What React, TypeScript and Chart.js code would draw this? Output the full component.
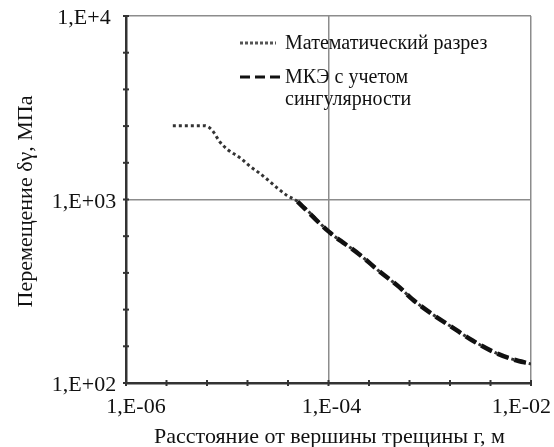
import React, { useEffect, useRef } from "react";
import { Chart, registerables } from "chart.js";

Chart.register(...registerables);

const xMath = [2.9e-6, 6.0e-6, 7.03e-6, 8.43e-6, 1.01e-5, 1.33e-5, 1.67e-5, 2.09e-5, 2.62e-5, 3.15e-5, 3.86e-5, 4.95e-5, 1e-4, 2.02e-4, 3.18e-4, 5.01e-4, 6.73e-4, 1.06e-3, 1.67e-3, 2.62e-3, 4.13e-3, 6.5e-3, 1e-2];
const yMath = [2525, 2525, 2399, 2065, 1870, 1691, 1520, 1390, 1255, 1150, 1055, 975, 670, 502, 406, 333, 286, 237, 201, 171, 149, 135, 127];

const xFem = [4.95e-5, 1e-4, 2.02e-4, 3.18e-4, 5.01e-4, 6.73e-4, 1.06e-3, 1.67e-3, 2.62e-3, 4.13e-3, 6.5e-3, 1e-2];
const yFem = [975, 670, 502, 406, 333, 286, 237, 201, 171, 149, 135, 127];

const xMajor = [1e-6, 1e-4, 1e-2];
const xLabels = ["1,E-06", "1,E-04", "1,E-02"];
const yMajor = [100, 1000, 10000];
const yLabels = ["1,E+02", "1,E+03", "1,E+4"];

const seriesNames = ["Математический разрез", "МКЭ с учетом", "сингулярности"];
const xTitle = "Расстояние от вершины трещины г, м";
const yTitle = "Перемещение δγ, МПа";

const FONT = '"Liberation Serif", "DejaVu Serif", serif';

const decorPlugin = {
  id: "decor",
  afterDraw(chart: any) {
    const ctx = chart.ctx;
    const xs = chart.scales.x;
    const ys = chart.scales.y;
    const area = chart.chartArea;
    ctx.save();
    ctx.strokeStyle = "#333";
    ctx.lineWidth = 2;
    for (let k = 0; k <= 10; k++) {
      const px = xs.getPixelForValue(Math.pow(10, -6 + 0.4 * k));
      ctx.beginPath();
      ctx.moveTo(px, area.bottom - 3);
      ctx.lineTo(px, area.bottom + 3);
      ctx.stroke();
      const py = ys.getPixelForValue(Math.pow(10, 2 + 0.2 * k));
      ctx.beginPath();
      ctx.moveTo(area.left - 3, py);
      ctx.lineTo(area.left + 3, py);
      ctx.stroke();
    }
    ctx.fillStyle = "#111";
    ctx.font = "22px " + FONT;
    ctx.textBaseline = "alphabetic";
    ctx.textAlign = "center";
    yMajor.forEach((v, i) => {
      const py = ys.getPixelForValue(v);
      ctx.fillText(yLabels[i], area.left - 42, py + 8);
    });
    xMajor.forEach((v, i) => {
      const px = xs.getPixelForValue(v);
      const w = ctx.measureText(xLabels[i]).width;
      let cx = px;
      if (i === 0) cx = px + 10;
      else if (i === xMajor.length - 1) cx = Math.min(px, chart.width - 3 - w / 2);
      else cx = px + 3;
      ctx.fillText(xLabels[i], cx, area.bottom + 30);
    });
    ctx.fillText(xTitle, (area.left + area.right) / 2 + 1, area.bottom + 60);
    ctx.save();
    ctx.translate(32, (area.top + area.bottom) / 2 + 2);
    ctx.rotate(-Math.PI / 2);
    ctx.fillText(yTitle, 0, 0);
    ctx.restore();
    ctx.font = "20px " + FONT;
    ctx.textAlign = "left";
    ctx.fillText(seriesNames[0], 285, 49);
    ctx.fillText(seriesNames[1], 285, 83);
    ctx.fillText(seriesNames[2], 285, 105);
    ctx.lineWidth = 3;
    ctx.strokeStyle = "#555";
    ctx.setLineDash([3, 2]);
    ctx.beginPath();
    ctx.moveTo(240, 43);
    ctx.lineTo(276, 43);
    ctx.stroke();
    ctx.strokeStyle = "#111";
    ctx.setLineDash([10, 5]);
    ctx.beginPath();
    ctx.moveTo(240, 77);
    ctx.lineTo(283, 77);
    ctx.stroke();
    ctx.restore();
  },
};

export default function App() {
  const ref = useRef<HTMLCanvasElement | null>(null);
  useEffect(() => {
    if (!ref.current) return;
    const chart = new Chart(ref.current, {
      type: "line",
      data: {
        datasets: [
          {
            label: "МКЭ с учетом сингулярности",
            data: xFem.map((x, i) => ({ x, y: yFem[i] })),
            borderColor: "#111",
            borderWidth: 4.5,
            borderDash: [12, 6],
            pointRadius: 0,
            cubicInterpolationMode: "monotone",
            fill: false,
          },
          {
            label: "Математический разрез",
            data: xMath.map((x, i) => ({ x, y: yMath[i] })),
            borderColor: "#333",
            borderWidth: 3,
            borderDash: [3, 3],
            pointRadius: 0,
            cubicInterpolationMode: "monotone",
            fill: false,
          },
        ],
      },
      options: {
        animation: false,
        responsive: false,
        layout: { padding: { left: 126, right: 23, top: 16, bottom: 64 } },
        plugins: { legend: { display: false }, tooltip: { enabled: false } },
        scales: {
          x: {
            type: "logarithmic",
            min: 1e-6,
            max: 1e-2,
            afterBuildTicks: (s: any) => {
              s.ticks = xMajor.map((v) => ({ value: v }));
            },
            ticks: { display: false },
            grid: { color: "#8c8c8c", lineWidth: 1.5, drawTicks: false },
            border: { display: true, color: "#333", width: 2.5 },
          },
          y: {
            type: "logarithmic",
            min: 100,
            max: 10000,
            afterBuildTicks: (s: any) => {
              s.ticks = yMajor.map((v) => ({ value: v }));
            },
            ticks: { display: false },
            grid: { color: "#8c8c8c", lineWidth: 1.5, drawTicks: false },
            border: { display: true, color: "#333", width: 2.5 },
          },
        },
      },
      plugins: [decorPlugin],
    });
    return () => chart.destroy();
  }, []);
  return (
    <div style={{ position: "absolute", left: 0, top: 0, width: 554, height: 447, background: "#fff" }}>
      <canvas ref={ref} width={554} height={447} />
    </div>
  );
}
